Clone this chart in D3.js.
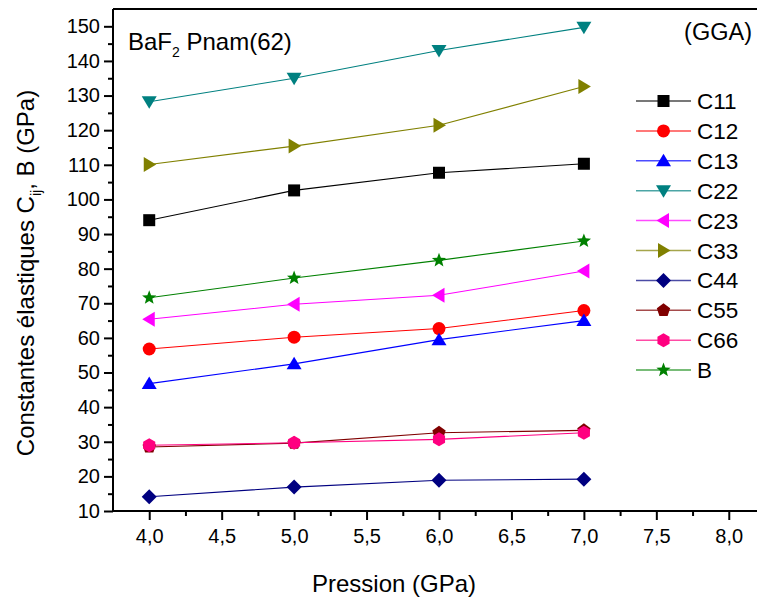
<!DOCTYPE html>
<html><head><meta charset="utf-8">
<script src="https://cdn.jsdelivr.net/npm/d3@7"></script>
<style>
body{margin:0;background:#fff;}
svg{display:block;font-family:"Liberation Sans",Arial,sans-serif;}
</style></head>
<body><svg id="chart" width="757" height="602"></svg>
<script>
const pressures = [4.0, 5.0, 6.0, 7.0];
const seriesNames = ["C11","C12","C13","C22","C23","C33","C44","C55","C66","B"];
const C11 = [94.0, 102.6, 107.7, 110.3];
const C12 = [56.8, 60.2, 62.7, 67.9];
const C13 = [46.8, 52.5, 59.5, 65.0];
const C22 = [128.2, 135.0, 143.0, 149.7];
const C23 = [65.4, 69.7, 72.3, 79.3];
const C33 = [110.1, 115.4, 121.4, 132.6];
const C44 = [14.1, 16.9, 18.9, 19.2];
const C55 = [28.5, 29.6, 32.6, 33.3];
const C66 = [29.0, 29.7, 30.7, 32.6];
const B   = [71.6, 77.3, 82.4, 88.0];
const xTickValues = [4.0, 4.5, 5.0, 5.5, 6.0, 6.5, 7.0, 7.5, 8.0];
const xTickLabels = ["4,0","4,5","5,0","5,5","6,0","6,5","7,0","7,5","8,0"];
const yTickValues = [10,20,30,40,50,60,70,80,90,100,110,120,130,140,150];

const valuesByName = {C11,C12,C13,C22,C23,C33,C44,C55,C66,B};
const styles = {
  C11:{color:"#000000", sym:"square"},
  C12:{color:"#FF0000", sym:"circle"},
  C13:{color:"#0000FF", sym:"up"},
  C22:{color:"#008080", sym:"down"},
  C23:{color:"#FF00FF", sym:"left"},
  C33:{color:"#808000", sym:"right"},
  C44:{color:"#000080", sym:"diamond"},
  C55:{color:"#800000", sym:"pentagon"},
  C66:{color:"#FF0080", sym:"hexagon"},
  B:  {color:"#008000", sym:"star"}
};

const svg = d3.select("#chart");
const pLeft = 113, pRight = 765, pTop = 9, pBottom = 511;
const x = d3.scaleLinear().domain([3.75, 8.25]).range([pLeft, pRight]);
const y = d3.scaleLinear().domain([10, 155]).range([pBottom, pTop]);

function poly(n, r, rot){
  const pts=[];
  for(let i=0;i<n;i++){const a=rot+i*2*Math.PI/n; pts.push([r*Math.cos(a), r*Math.sin(a)]);}
  return "M"+pts.map(p=>p[0].toFixed(2)+","+p[1].toFixed(2)).join("L")+"Z";
}
function starPath(ro, ri){
  const pts=[];
  for(let i=0;i<10;i++){const r=i%2?ri:ro; const a=-Math.PI/2+i*Math.PI/5; pts.push([r*Math.cos(a), r*Math.sin(a)]);}
  return "M"+pts.map(p=>p[0].toFixed(2)+","+p[1].toFixed(2)).join("L")+"Z";
}
function symbolPath(sym){
  switch(sym){
    case "square": return "M-6,-6L6,-6L6,6L-6,6Z";
    case "circle": return d3.arc()({innerRadius:0,outerRadius:6.5,startAngle:0,endAngle:2*Math.PI});
    case "up": return "M0,-7L7.5,5.5L-7.5,5.5Z";
    case "down": return "M0,7L7.5,-5.5L-7.5,-5.5Z";
    case "left": return "M-7,0L5.5,-7.5L5.5,7.5Z";
    case "right": return "M7,0L-5.5,-7.5L-5.5,7.5Z";
    case "diamond": return "M0,-7.5L7.5,0L0,7.5L-7.5,0Z";
    case "pentagon": return poly(5, 7, -Math.PI/2);
    case "hexagon": return poly(6, 7, -Math.PI/2);
    case "star": return starPath(7.5, 3.2);
  }
}

// top frame line
svg.append("line").attr("x1",pLeft).attr("x2",757).attr("y1",pTop).attr("y2",pTop)
  .attr("stroke","#000").attr("stroke-width",2);

// minor ticks
const yMinor = d3.axisLeft(y).tickValues(d3.range(15,155,10)).tickSize(5).tickFormat("");
const xMinor = d3.axisBottom(x).tickValues(d3.range(4.25,8.3,0.5)).tickSize(5).tickFormat("");
svg.append("g").attr("transform",`translate(${pLeft},0)`).call(yMinor)
  .call(g=>g.select(".domain").remove()).selectAll("line").attr("stroke","#000").attr("stroke-width",2);
svg.append("g").attr("transform",`translate(0,${pBottom})`).call(xMinor)
  .call(g=>g.select(".domain").remove()).selectAll("line").attr("stroke","#000").attr("stroke-width",2);

const yAxis = d3.axisLeft(y).tickValues(yTickValues).tickSize(9).tickSizeOuter(0).tickPadding(4);
const gy = svg.append("g").attr("transform",`translate(${pLeft},0)`).call(yAxis);
gy.select(".domain").attr("stroke-width",2).attr("d",`M0,${pTop}V${pBottom}`);
gy.selectAll(".tick line").attr("stroke-width",2);
gy.selectAll(".tick text").attr("font-size",20).attr("font-family","Liberation Sans, Arial, sans-serif").attr("fill","#000");

const xAxis = d3.axisBottom(x).tickValues(xTickValues).tickSize(9).tickSizeOuter(0).tickPadding(9)
  .tickFormat((d,i)=>xTickLabels[i]);
const gx = svg.append("g").attr("transform",`translate(0,${pBottom})`).call(xAxis);
gx.select(".domain").attr("stroke-width",2).attr("d",`M${pLeft-1},0H757`);
gx.selectAll(".tick line").attr("stroke-width",2);
gx.selectAll(".tick text").attr("font-size",20).attr("font-family","Liberation Sans, Arial, sans-serif").attr("fill","#000");

// series
const line = d3.line().x((d,i)=>x(pressures[i])).y(d=>y(d));
seriesNames.forEach(name=>{
  const vals = valuesByName[name], st = styles[name];
  svg.append("path").attr("d", line(vals)).attr("fill","none")
    .attr("stroke", st.color).attr("stroke-width",1.1);
});
seriesNames.forEach(name=>{
  const vals = valuesByName[name], st = styles[name];
  svg.append("g").selectAll("path").data(vals).join("path")
    .attr("d", symbolPath(st.sym))
    .attr("transform",(d,i)=>`translate(${x(pressures[i])},${y(d)})`)
    .attr("fill", st.color);
});

// legend
const lg = svg.append("g").attr("transform","translate(636,101)");
seriesNames.forEach((name,i)=>{
  const st = styles[name];
  const g = lg.append("g").attr("transform",`translate(0,${i*29.9})`);
  g.append("line").attr("x1",0).attr("x2",55).attr("stroke",st.color).attr("stroke-width",1.5).attr("opacity",0.7);
  g.append("path").attr("d",symbolPath(st.sym)).attr("transform","translate(27.5,0)").attr("fill",st.color);
  g.append("text").attr("x",61).attr("y",8).attr("font-size",22.5).text(name);
});

// title
const t = svg.append("text").attr("x",128).attr("y",50).attr("font-size",24);
t.append("tspan").text("BaF");
t.append("tspan").attr("font-size",14).attr("dy",7).text("2");
t.append("tspan").attr("dy",-7).text(" Pnam(62)");

svg.append("text").attr("x",752).attr("y",40).attr("text-anchor","end").attr("font-size",23.5).text("(GGA)");

// axis titles
svg.append("text").attr("x",394).attr("y",592).attr("text-anchor","middle").attr("font-size",24).text("Pression (GPa)");
const yl = svg.append("text").attr("transform","translate(34,273) rotate(-90)").attr("text-anchor","middle").attr("font-size",24);
yl.append("tspan").text("Constantes élastiques C");
yl.append("tspan").attr("font-size",14).attr("dy",7).text("ij");
yl.append("tspan").attr("dy",-7).text(", B (GPa)");
</script></body></html>
